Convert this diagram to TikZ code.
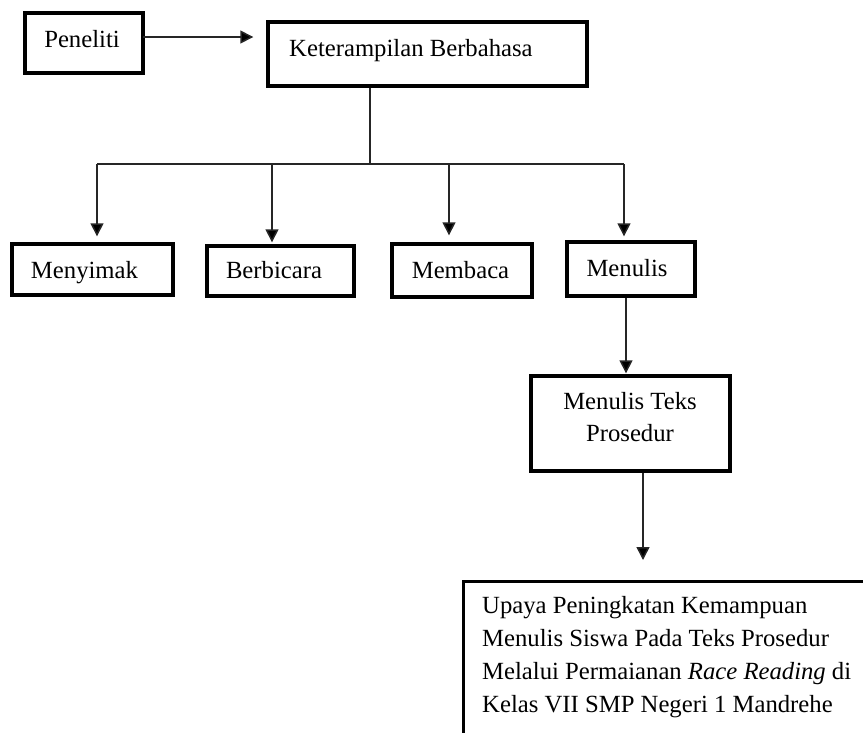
\documentclass[tikz,border=0pt]{standalone}
\usepackage{fontspec}
\setmainfont{Liberation Serif}
\usetikzlibrary{arrows.meta}
\begin{document}
\begin{tikzpicture}[x=1pt,y=-1pt,
  box/.style={draw=black,line width=3.4pt,inner sep=0pt},
  conn/.style={line width=1.5pt,draw=black!85},
  arr/.style={conn,-{Triangle[length=13pt,width=13pt,fill=black]}},
  txt/.style={inner sep=0pt,font=\fontsize{24.7}{33}\selectfont}]
\useasboundingbox (0,0) rectangle (863,732);
\clip (0,0) rectangle (863,732);
% boxes
\node[box,minimum width=118pt,minimum height=60pt] (pen) at (84,43) {};
\node[box,minimum width=319pt,minimum height=64pt] (keter) at (427.5,54) {};
\node[box,minimum width=161pt,minimum height=51pt] (m1) at (92.5,269.5) {};
\node[box,minimum width=147pt,minimum height=50pt] (m2) at (280.5,271) {};
\node[box,minimum width=140pt,minimum height=53pt] (m3) at (462,270.5) {};
\node[box,minimum width=128pt,minimum height=54pt] (m4) at (631,269) {};
\node[box,minimum width=199pt,minimum height=95pt] (pros) at (630.5,423.5) {};
\node[box,anchor=north west,minimum width=520pt,minimum height=260pt] (fin) at (462,580) {};
% texts
\node[txt,anchor=base] (tpen) at (82,47) {Peneliti};
\node[txt,anchor=base west] (tketer) at (289,56) {Keterampilan Berbahasa};
\node[txt,anchor=base] (t1) at (84.5,278) {Menyimak};
\node[txt,anchor=base] (t2) at (274,278) {Berbicara};
\node[txt,anchor=base] (t3) at (460.5,278) {Membaca};
\node[txt,anchor=base] (t4) at (627,276) {Menulis};
\node[txt,anchor=base,align=center,font=\fontsize{24.7}{32.5}\selectfont] (tpros) at (630,441.5) {Menulis Teks\\Prosedur};
\node[txt,anchor=base west,align=left] (tfin) at (482,712)
  {Upaya Peningkatan Kemampuan\\Menulis Siswa Pada Teks Prosedur\\Melalui Permaianan \textit{Race Reading} di\\Kelas VII SMP Negeri 1 Mandrehe};
% connectors
\coordinate (pa) at (143,37);
\coordinate (hm) at (370,164);
\coordinate (hl) at (97,164);
\coordinate (hb) at (272,164);
\coordinate (hc) at (449,164);
\coordinate (hr) at (624,164);
\draw[arr,shorten >=13pt] (pa) -- (pa -| keter.west);
\draw[conn] (hm |- keter.south) -- (hm);
\draw[conn] (hl) -- (hr);
\draw[arr,shorten >=6pt] (hl) -- (hl |- m1.north);
\draw[arr,shorten >=2pt] (hb) -- (hb |- m2.north);
\draw[arr,shorten >=7pt] (hc) -- (hc |- m3.north);
\draw[arr,shorten >=4pt] (hr) -- (hr |- m4.north);
\draw[arr,shorten >=1pt] (m4.south -| 626,0) -- (626,0 |- pros.north);
\draw[arr,shorten >=20pt] (pros.south -| 643,0) -- (643,0 |- fin.north);
\end{tikzpicture}
\end{document}
